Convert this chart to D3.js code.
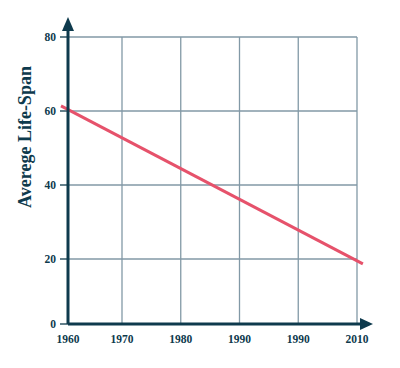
<!DOCTYPE html>
<html lang="en">
<head>
    <meta charset="UTF-8">
    <title>Average Life-Span</title>
    <script src="https://d3js.org/d3.v7.min.js"></script>
    <style>
        body { margin: 0; background: #fff; }
        svg { display: block; }
        .tick-label {
            font-family: 'Liberation Serif', 'DejaVu Serif', serif;
            font-weight: bold;
            font-size: 11.5px;
            fill: #0e3a4d;
        }
    </style>
</head>
<body>
    <div id="chart"></div>
    <script>
        // tick labels and values
        var xYears = [1960, 1970, 1980, 1990, 2000, 2010];
        var xLabels = ['1960', '1970', '1980', '1990', '1990', '2010'];
        var yTicks = [0, 20, 40, 60, 80];

        // the pink line runs straight from a bit left of 1960 to just past 2010
        var lineYears = [1958.7, 2011];
        var lineValues = [61.4, 18.5];

        var width = 400;
        var height = 368;
        var axisColor = '#0e3a4d';
        var gridColor = '#8299a6';

        var svg = d3.select('#chart')
                    .append('svg')
                    .attr('width', width)
                    .attr('height', height);

        // the drawing is not quite linear: 1960 sits on the axis, zero sits on the x axis
        var x_scale = d3.scaleLinear()
                        .domain([1960, 1970, 2010])
                        .range([68, 122, 357]);

        var y_scale = d3.scaleLinear()
                        .domain([0, 20, 80])
                        .range([324, 259, 37]);

        // grid
        svg.append('g')
            .selectAll('line')
            .data(xYears.slice(1))
            .enter().append('line')
            .attr('x1', d => x_scale(d))
            .attr('x2', d => x_scale(d))
            .attr('y1', y_scale(80))
            .attr('y2', y_scale(0))
            .attr('stroke', gridColor)
            .attr('stroke-width', 1.3);

        svg.append('g')
            .selectAll('line')
            .data(yTicks.slice(1))
            .enter().append('line')
            .attr('x1', x_scale(1960))
            .attr('x2', x_scale(2010))
            .attr('y1', d => y_scale(d))
            .attr('y2', d => y_scale(d))
            .attr('stroke', gridColor)
            .attr('stroke-width', 1.3);

        // y ticks and labels
        var yAxis = svg.append('g');
        yAxis.selectAll('line')
            .data(yTicks)
            .enter().append('line')
            .attr('x1', x_scale(1960) - 8)
            .attr('x2', x_scale(1960))
            .attr('y1', d => y_scale(d))
            .attr('y2', d => y_scale(d))
            .attr('stroke', axisColor)
            .attr('stroke-width', 1.3);

        yAxis.selectAll('text')
            .data(yTicks)
            .enter().append('text')
            .attr('class', 'tick-label')
            .attr('x', x_scale(1960) - 12)
            .attr('y', d => y_scale(d))
            .attr('dy', '0.35em')
            .attr('text-anchor', 'end')
            .text(d => d);

        // x labels
        svg.append('g')
            .selectAll('text')
            .data(xYears)
            .enter().append('text')
            .attr('class', 'tick-label')
            .attr('x', d => x_scale(d))
            .attr('y', y_scale(0) + 19)
            .attr('text-anchor', 'middle')
            .text((d, i) => xLabels[i]);

        // the data line
        var pts = lineYears.map((yr, i) => [yr, lineValues[i]]);
        svg.append('path')
            .datum(pts)
            .attr('d', d3.line().x(d => x_scale(d[0])).y(d => y_scale(d[1])))
            .attr('fill', 'none')
            .attr('stroke', '#e6526b')
            .attr('stroke-width', 3);

        // axes with arrow heads
        var ox = x_scale(1960), oy = y_scale(0);
        svg.append('line')
            .attr('x1', ox).attr('x2', ox)
            .attr('y1', oy).attr('y2', 28)
            .attr('stroke', axisColor)
            .attr('stroke-width', 3);
        svg.append('path')
            .attr('d', `M${ox - 6},31 L${ox},17 L${ox + 6},31 Z`)
            .attr('fill', axisColor);

        svg.append('line')
            .attr('x1', ox).attr('x2', 362)
            .attr('y1', oy).attr('y2', oy)
            .attr('stroke', axisColor)
            .attr('stroke-width', 3);
        svg.append('path')
            .attr('d', `M360,${oy - 6} L373,${oy} L360,${oy + 6} Z`)
            .attr('fill', axisColor);

        // y axis title
        svg.append('text')
            .attr('transform', 'translate(31, 137) rotate(-90)')
            .attr('text-anchor', 'middle')
            .style('font-family', "'Liberation Serif', 'DejaVu Serif', serif")
            .style('font-weight', 'bold')
            .style('font-size', '18px')
            .style('fill', axisColor)
            .text('Averege Life-Span');
    </script>
</body>
</html>
